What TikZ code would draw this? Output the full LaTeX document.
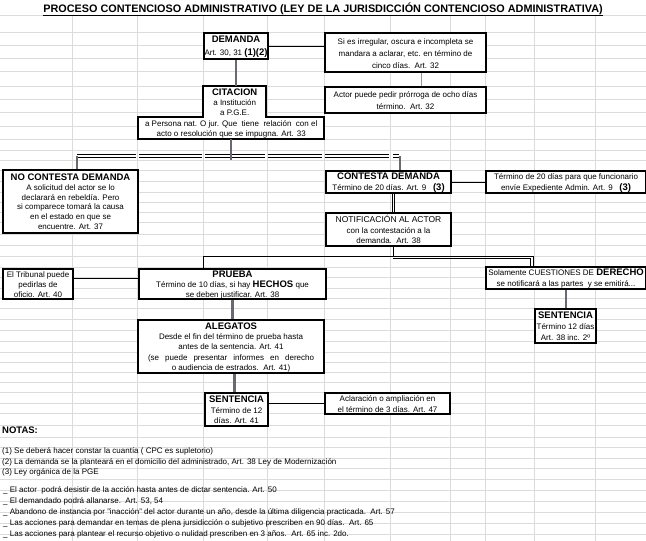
\documentclass[tikz,border=0pt]{standalone}
\usepackage{fontspec}
\setmainfont{Liberation Sans}
\usetikzlibrary{calc}
\newcommand{\hdr}[1]{{\fontsize{9.5}{10}\selectfont\bfseries #1}}
\newcommand{\fs}{\rule{0pt}{8.5pt}}
\newcommand{\ls}{\rule[-1.5pt]{0pt}{0pt}}
\newcommand{\dsp}{\ \ }
\begin{document}
\begin{tikzpicture}[x=1pt,y=-1pt,
  box/.style={draw, line width=2.1pt, fill=white, inner sep=0pt, align=center, anchor=north west, font=\fontsize{8}{#1}\selectfont},
  box/.default=10.5,
  tbox/.style={inner sep=0pt, align=center, anchor=north west, font=\fontsize{8}{#1}\selectfont},
  tbox/.default=10.5,
  gridl/.style={draw=black!14, line width=0.6pt},
  conn/.style={line width=0.9pt},
  gconn/.style={line width=2.2pt, draw={rgb,255:red,105;green,105;blue,115}},
  lgconn/.style={line width=1pt, draw=black!40},
  txt/.style={anchor=base west, inner sep=0pt, font=\fontsize{8}{9}\selectfont}]
\useasboundingbox (0,0) rectangle (646,541);
\fill[white] (0,0) rectangle (646,541);
% spreadsheet grid
\foreach \gx in {72,137,203,267,324,390,450,485,534,595}
  \draw[gridl] (\gx,15) -- (\gx,541);
\foreach \gy in {15,32,45,58,71,86,99,112,126,139,150,160,170,181,192,202,212,222,234,245,256,267,277,288,298,308,319,330,341,352,362,372,382,392,403,413,425,437,447,458,468,479,490,501,512,523,534}
  \draw[gridl] (0,\gy) -- (646,\gy);
% title
\node[anchor=base, inner sep=0pt, font=\fontsize{10.85}{12}\selectfont\bfseries] (title) at (323,12)
  {\underline{PROCESO CONTENCIOSO ADMINISTRATIVO (LEY DE LA JURISDICCIÓN CONTENCIOSO ADMINISTRATIVA)}};
% boxes
\node[box=13, minimum width=64, minimum height=26] (dem) at (203,32) {\fs\hdr{DEMANDA}\\Art. 30, 31 \hdr{(1)(2)}\ls};
\node[box=12, minimum width=161, minimum height=39] (si) at (324,32) {\fs Si es irregular, oscura e incompleta se\\mandara a aclarar, etc. en término de\\cinco días.\dsp Art. 32\ls};
\node[box=12, minimum width=161, minimum height=26] (actor) at (324,86) {\fs Actor puede pedir prórroga de ocho días\\término.\dsp Art. 32\ls};
\draw[line width=2.1pt, fill=white] (203,86) -- (266,86) -- (266,117) -- (324,117) -- (324,139) -- (138,139) -- (138,117) -- (203,117) -- cycle;
\node[tbox=10.2, minimum width=63, minimum height=31] (cit) at (203,86) {\fs\hdr{CITACION}\\a Institución\\a P.G.E.\ls};
\node[tbox=10.5, minimum width=186, minimum height=22] (citb) at (138,117) {\fs a Persona nat. O jur. Que\dsp tiene\dsp relación\dsp con el\\acto o resolución que se impugna. Art. 33\ls};
\node[box=9.8, minimum width=135, minimum height=63] (nocont) at (2,169) {\fs\hdr{NO CONTESTA DEMANDA}\\A solicitud del actor se lo\\declarará en rebeldía. Pero\\si comparece tomará la causa\\en el estado en que se\\encuentre. Art. 37\ls};
\node[box=11, minimum width=125, minimum height=22] (contesta) at (325,170) {\fs\hdr{CONTESTA DEMANDA}\\Término de 20 días. Art. 9\dsp\ \hdr{(3)}\ls};
\node[box=11, minimum width=160, minimum height=22] (term20) at (485,170) {\fs Término de 20 días para que funcionario\\envíe Expediente Admin. Art. 9\dsp\ \hdr{(3)}\ls};
\node[box=10.8, minimum width=125, minimum height=33] (notif) at (325,212) {\fs{\fontsize{8.5}{10}\selectfont NOTIFICACIÓN AL ACTOR}\\con la contestación a la\\demanda.\dsp Art. 38\ls};
\node[box=9.8, minimum width=70, minimum height=30] (trib) at (2,268) {\fs El Tribunal puede\\pedirlas de\\oficio. Art. 40\ls};
\node[box=9.8, minimum width=187, minimum height=30] (prueba) at (138,268) {\fs\hdr{PRUEBA}\\Término de 10 días, si hay \hdr{HECHOS} que\\se deben justificar. Art. 38\ls};
\node[box=11, minimum width=160, minimum height=22] (solam) at (485,266) {\fs Solamente CUESTIONES DE \hdr{DERECHO}\\se notificará a las partes\dsp y se emitirá...\ls};
\node[box=11, minimum width=61, minimum height=34] (sentr) at (534,308) {\fs\hdr{SENTENCIA}\\Término 12 días\\Art. 38 inc. 2º\ls};
\node[box=10.4, minimum width=186, minimum height=53] (aleg) at (137,319) {\fs\hdr{ALEGATOS}\\Desde el fin del término de prueba hasta\\antes de la sentencia. Art. 41\\\makebox[166pt][s]{(se puede presentar informes en derecho}\\o audiencia de estrados.\dsp Art. 41)\ls};
\node[box=10.8, minimum width=63, minimum height=33] (sentl) at (204,392) {\fs\hdr{SENTENCIA}\\Término de 12\\días. Art. 41\ls};
\node[box=10.5, minimum width=125, minimum height=21] (acl) at (324,392) {\fs Aclaración o ampliación en\\el término de 3 días. Art. 47\ls};
% connectors
\draw[conn] (dem.east) -- (dem.east -| si.west);
\draw[gconn] (dem.south) -- (dem.south |- cit.north);
\coordinate (sib) at ($(si.south)+(16,0)$);
\draw[lgconn] (sib) -- (sib |- actor.north);
\coordinate (busL) at (77,155.5);
\coordinate (busR) at (400,155.5);
\foreach \a/\b in {77/136,139/202,205/265,268/322,325/389,393/399} {
  \draw[line width=0.8pt] (\a,154) -- (\b,154);
  \draw[line width=0.8pt] (\a,157) -- (\b,157);
}
\draw[gconn] (citb.south) -- ($(citb.south |- busL)+(0,4)$);
\draw[gconn] (busL) -- (busL |- nocont.north);
\draw[gconn] (busR) -- (busR |- contesta.north);
\draw[conn] (contesta.east) -- (term20.west);
\coordinate (cd1) at ($(contesta.south)+(3.5,0)$);
\coordinate (cd2) at ($(contesta.south)+(6,0)$);
\draw[conn] (cd1) -- (cd1 |- notif.north);
\draw[conn] (cd2) -- (cd2 |- notif.north);
\coordinate (jl) at (203,256);
\coordinate (jr) at (533,256);
\coordinate (jr2) at (530.5,258.5);
\coordinate (nb) at ($(notif.south)+(4.5,0)$);
\draw[conn] (nb) -- (nb |- jl);
\draw[conn] (jl) -- (jr) -- (jr |- solam.north);
\draw[conn] (nb |- jr2) -- (jr2) -- (jr2 |- solam.north);
\draw[conn] (jl) -- (jl |- prueba.north);
\coordinate (tr) at ($(trib.east)+(0,-6)$);
\draw[conn] (tr) -- (tr -| prueba.west);
\draw[gconn] (prueba.south) -- (prueba.south |- aleg.north);
\coordinate (sl) at ($(sentl.north)+(-2,0)$);
\draw[gconn] (sl |- aleg.south) -- (sl);
\draw[gconn] (solam.south) -- (solam.south |- sentr.north);
\draw[conn] (acl.west -| sentl.east) -- (acl.west);
% notes
\node[txt, font=\fontsize{9.5}{10}\selectfont\bfseries] (notas) at (2,433.5) {NOTAS:};
\node[txt] (n1) at (2,453.7) {(1) Se deberá hacer constar la cuantía ( CPC es supletorio)};
\node[txt] (n2) at (2,464.2) {(2) La demanda se la planteará en el domicilio del administrado, Art. 38 Ley de Modernización};
\node[txt] (n3) at (2,474.7) {(3) Ley orgánica de la PGE};
\node[txt] (b1) at (3,492.5) {\_ El actor\dsp podrá desistir de la acción hasta antes de dictar sentencia. Art. 50};
\node[txt] (b2) at (3,503.6) {\_ El demandado podrá allanarse.\dsp Art. 53, 54};
\node[txt] (b3) at (3,514.7) {\_ Abandono de instancia por "inacción" del actor durante un año, desde la última diligencia practicada.\dsp Art. 57};
\node[txt] (b4) at (3,525.8) {\_ Las acciones para demandar en temas de plena jursidicción o subjetivo prescriben en 90 días.\dsp Art. 65};
\node[txt] (b5) at (3,536.9) {\_ Las acciones para plantear el recurso objetivo o nulidad prescriben en 3 años.\dsp Art. 65 inc. 2do.};
\end{tikzpicture}
\end{document}
